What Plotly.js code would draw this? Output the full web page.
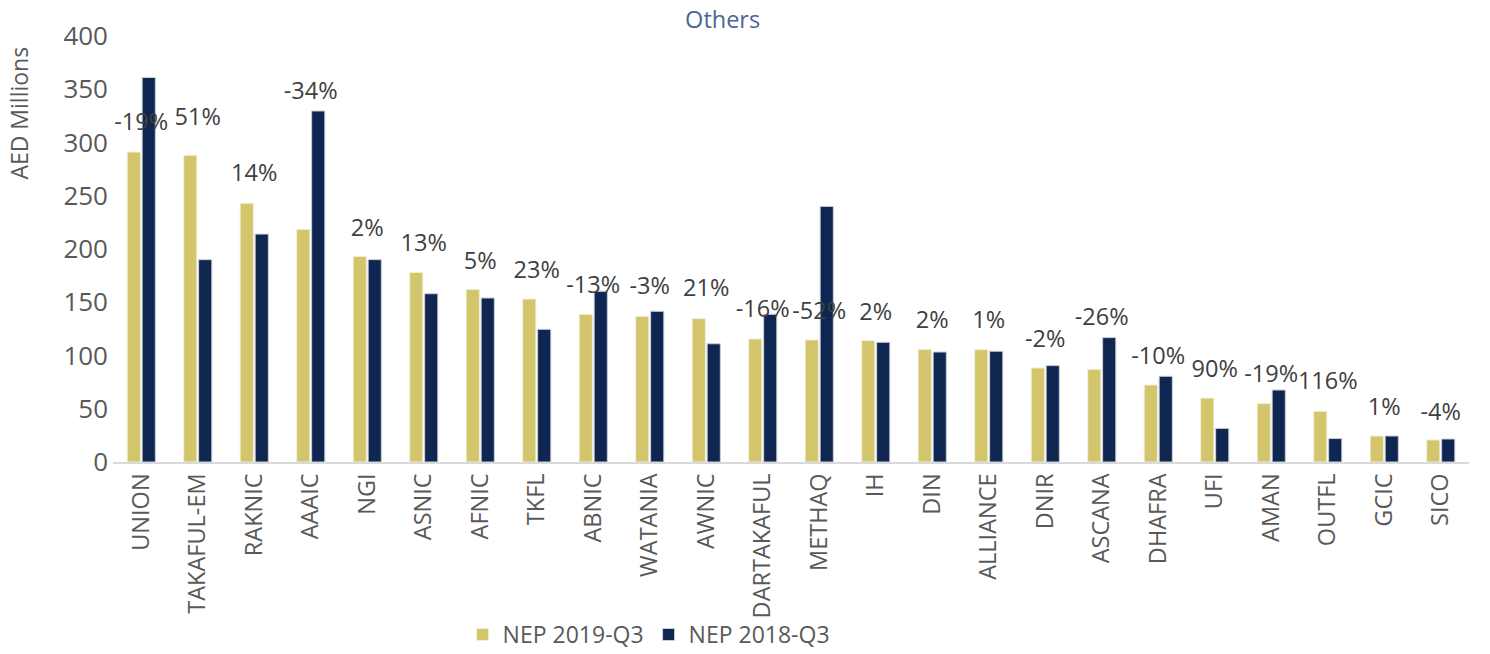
<!DOCTYPE html>
<html>
<head>
<meta charset="utf-8">
<script src="https://cdn.plot.ly/plotly-3.0.1.min.js"></script>
<style>
html,body{margin:0;padding:0;background:#fff;}
#chart{width:1490px;height:654px;}
</style>
</head>
<body>
<div id="chart"></div>
<script>
const categories = ["UNION","TAKAFUL-EM","RAKNIC","AAAIC","NGI","ASNIC","AFNIC","TKFL","ABNIC","WATANIA","AWNIC","DARTAKAFUL","METHAQ","IH","DIN","ALLIANCE","DNIR","ASCANA","DHAFRA","UFI","AMAN","OUTFL","GCIC","SICO"];
const nep2019 = [291,288,243,218.5,193,178,162,153,138.7,136.8,134.6,115.5,114.6,114,105.8,105.5,88.3,87,72.3,60,54.8,47.6,24.4,20.7];
const nep2018 = [361,190,214,329.6,190,158,154,124.6,160.3,141.5,111,138.7,240,112.4,103.3,104,90.5,116.8,80.5,31.6,67.6,22,24.4,21.6];
const changeLabels = ["-19%","51%","14%","-34%","2%","13%","5%","23%","-13%","-3%","21%","-16%","-52%","2%","2%","1%","-2%","-26%","-10%","90%","-19%","116%","1%","-4%"];
const labelY = [317,322,269,346.5,218,203.5,187,178,164,163,161,141.5,140,139,131.5,131,113.6,134.6,97.7,85.4,80.5,73.6,49.5,45.4];
const yTicks = [0,50,100,150,200,250,300,350,400];

const FONT = "Open Sans, DejaVu Sans, sans-serif";

const traces = [
  {
    type: "bar", name: "NEP 2019-Q3", x: categories, y: nep2019,
    marker: {color: "#D3C56C", line: {color: "#F2EFD9", width: 1}},
    hoverinfo: "x+y"
  },
  {
    type: "bar", name: "NEP 2018-Q3", x: categories, y: nep2018,
    marker: {color: "#0E2650", line: {color: "#C9CFDA", width: 1}},
    hoverinfo: "x+y"
  },
  {
    type: "scatter", mode: "text", x: categories, y: labelY, text: changeLabels,
    textposition: "middle center",
    textfont: {family: FONT, size: 23.5, color: "#404040"},
    showlegend: false, hoverinfo: "skip", cliponaxis: false
  }
];

const layout = {
  width: 1490, height: 654,
  paper_bgcolor: "#fff", plot_bgcolor: "#fff",
  margin: {l: 113, r: 21, t: 36, b: 192, autoexpand: false},
  barmode: "group", bargap: 0.47, bargroupgap: 0.12,
  title: {text: "Others", x: 0.485, xanchor: "center", y: 0.97, yanchor: "middle",
          font: {family: FONT, size: 23.5, color: "#4A6598"}},
  font: {family: FONT, color: "#595959"},
  xaxis: {
    type: "category", range: [-0.5, categories.length - 0.5], tickangle: -90,
    showgrid: false, zeroline: false,
    showline: true, linecolor: "#D9D9D9", linewidth: 2, ticks: "",
    tickfont: {family: FONT, size: 23.5, color: "#595959"}, automargin: false
  },
  yaxis: {
    range: [0, 400], tickvals: yTicks, showgrid: false, zeroline: false,
    showline: false, ticks: "", ticklabelstandoff: 4,
    tickfont: {family: FONT, size: 26, color: "#595959"}, automargin: false
  },
  annotations: [{
    text: "AED Millions", xref: "paper", yref: "paper", x: -0.07, y: 0.818,
    xanchor: "center", yanchor: "middle", textangle: -90, showarrow: false,
    font: {family: FONT, size: 23, color: "#595959"}
  }],
  legend: {
    orientation: "h", x: 0.395, xanchor: "center", y: -0.405, yanchor: "middle",
    bgcolor: "rgba(0,0,0,0)",
    font: {family: FONT, size: 23, color: "#595959"}, itemwidth: 30, traceorder: "normal"
  },
  showlegend: true
};

Plotly.newPlot("chart", traces, layout, {displayModeBar: false, staticPlot: true});
</script>
</body>
</html>
